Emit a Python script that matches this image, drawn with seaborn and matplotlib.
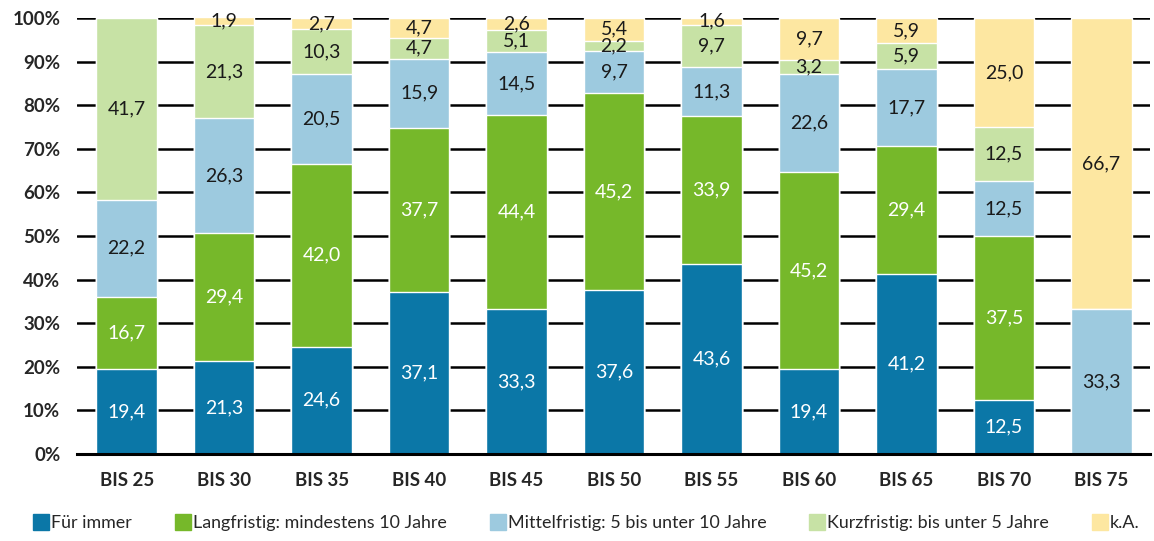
import numpy as np
import pandas as pd
import seaborn as sns
import matplotlib.pyplot as plt
from matplotlib.lines import Line2D

# Data
categories = ['BIS 25', 'BIS 30', 'BIS 35', 'BIS 40', 'BIS 45', 'BIS 50',
              'BIS 55', 'BIS 60', 'BIS 65', 'BIS 70', 'BIS 75']
series_names = ['Für immer', 'Langfristig: mindestens 10 Jahre',
                'Mittelfristig: 5 bis unter 10 Jahre',
                'Kurzfristig: bis unter 5 Jahre', 'k.A.']
fuer_immer = [19.4, 21.3, 24.6, 37.1, 33.3, 37.6, 43.6, 19.4, 41.2, 12.5, 0]
langfristig = [16.7, 29.4, 42.0, 37.7, 44.4, 45.2, 33.9, 45.2, 29.4, 37.5, 0]
mittelfristig = [22.2, 26.3, 20.5, 15.9, 14.5, 9.7, 11.3, 22.6, 17.7, 12.5, 33.3]
kurzfristig = [41.7, 21.3, 10.3, 4.7, 5.1, 2.2, 9.7, 3.2, 5.9, 12.5, 0]
keine_angabe = [0, 1.9, 2.7, 4.7, 2.6, 5.4, 1.6, 9.7, 5.9, 25.0, 66.7]

colors = ['#0b77a7', '#76b82a', '#9dcadf', '#c7e2a5', '#fde7a1']
text_colors = ['white', 'white', '#1a1a1a', '#1a1a1a', '#1a1a1a']

sns.set_style('white')
plt.rcParams['font.family'] = ['Lato', 'DejaVu Sans']

values = [fuer_immer, langfristig, mittelfristig, kurzfristig, keine_angabe]
df = pd.DataFrame({name: v for name, v in zip(series_names, values)}, index=categories)
cum = df.cumsum(axis=1)

fig = plt.figure(figsize=(11.54, 5.41), dpi=100)
ax = fig.add_axes([0.0667, 0.1608, 0.93, 0.806])

# stacked bars: draw cumulative totals from the top series down
for i in reversed(range(len(series_names))):
    plot_df = pd.DataFrame({'cat': categories, 'val': cum.iloc[:, i].values})
    sns.barplot(data=plot_df, x='cat', y='val', color=colors[i], width=0.62,
                saturation=1, ax=ax, zorder=2)

# value labels
for i, name in enumerate(series_names):
    bottoms = cum.iloc[:, i] - df.iloc[:, i]
    for j, v in enumerate(df.iloc[:, i]):
        if v > 0:
            ax.text(j, bottoms.iloc[j] + v / 2, f'{v:.1f}'.replace('.', ','),
                    ha='center', va='center', fontsize=14, color=text_colors[i],
                    zorder=3)

ax.set_ylim(0, 100)
ax.set_xlim(-0.51, 10.45)
ax.set_yticks(range(0, 101, 10))
ax.set_yticklabels([f'{t}%' for t in range(0, 101, 10)], fontsize=13.5, fontweight='bold')
ax.set_xticks(range(len(categories)))
ax.set_xticklabels(categories, fontsize=13.5, fontweight='bold')
ax.set_xticks(np.arange(-0.5, len(categories)), minor=True)
ax.tick_params(axis='x', which='major', length=0, pad=13)
ax.tick_params(axis='x', which='minor', length=6, width=2, color='black', direction='out')
ax.tick_params(axis='y', length=0, pad=12)
ax.yaxis.grid(True, color='black', linewidth=1.8, zorder=0)
ax.set_axisbelow(True)
ax.set_xlabel('')
ax.set_ylabel('')
for s in ['left', 'right', 'top']:
    ax.spines[s].set_visible(False)
ax.spines['bottom'].set_color('black')
ax.spines['bottom'].set_linewidth(2.2)

handles = [Line2D([0], [0], marker='s', linestyle='none', markersize=11,
                  markerfacecolor=c, markeredgecolor=c) for c in colors]
fig.legend(handles, series_names, loc='lower left', bbox_to_anchor=(0.014, -0.012),
           ncol=5, frameon=False, fontsize=12.9, handletextpad=0.05,
           columnspacing=2.35, handlelength=1.0)

fig.savefig('out.png', dpi=100)
